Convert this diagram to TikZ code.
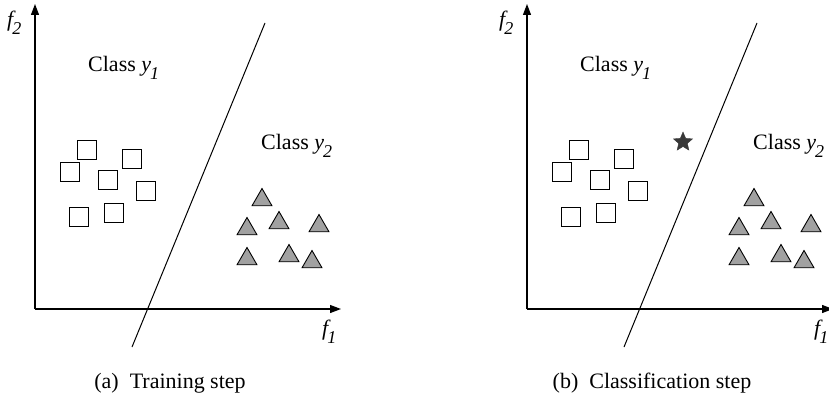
\documentclass[tikz,border=0pt]{standalone}
\usepackage{fontspec}
\setmainfont{Liberation Serif}
\newfontfamily\tms{Liberation Serif}
\usetikzlibrary{arrows.meta,shapes.geometric}
\newcommand{\lbl}[2]{{\itshape #1}\kern-1pt\raisebox{-8pt}{\fontsize{18}{18}\selectfont\itshape #2}}
\tikzset{
  axis/.style={line width=1.2pt,-{Triangle[length=11pt,width=8pt]}},
  sq/.style={draw,line width=0.9pt,minimum size=19pt,inner sep=0pt},
  tri/.style={draw,line width=0.9pt,fill=black!37,regular polygon,regular polygon sides=3,minimum size=23pt,inner sep=0pt},
  txt/.style={font=\tms\fontsize{22}{26}\selectfont,anchor=base west,inner sep=0pt},
  captext/.style={font=\tms\fontsize{22}{26}\selectfont,anchor=base,inner sep=0pt},
  sep/.style={line width=1pt},
  starnode/.style={star,star points=5,star point ratio=2.2,fill=black!78,draw=black!78,minimum size=20pt,inner sep=0pt}
}
\newcommand{\panel}{%
  \coordinate (o) at (35,309);
  \coordinate (yt) at (35,4);
  \coordinate (xt) at (341,309);
  \draw[axis] (o) -- (yt);
  \draw[axis] (o) -- (xt);
  \node[txt] (f2) at (7,27) {\lbl{f}{2}};
  \node[txt] (f1) at (322,335) {\lbl{f}{1}};
  \coordinate (l1) at (132,347);
  \coordinate (l2) at (265,23);
  \draw[sep] (l1) -- (l2);
  \node[txt] (c1) at (88,71) {Class \lbl{y}{1}};
  \node[txt] (c2) at (261,149) {Class \lbl{y}{2}};
  \node[sq] (s1) at (87,150) {};
  \node[sq] (s2) at (70,172) {};
  \node[sq] (s3) at (132,159) {};
  \node[sq] (s4) at (108,180) {};
  \node[sq] (s5) at (146,191) {};
  \node[sq] (s6) at (79,217) {};
  \node[sq] (s7) at (114,213) {};
  \node[tri] (t1) at (262,200) {};
  \node[tri] (t2) at (279,223) {};
  \node[tri] (t3) at (247,229) {};
  \node[tri] (t4) at (319,226) {};
  \node[tri] (t5) at (247,259) {};
  \node[tri] (t6) at (289,256) {};
  \node[tri] (t7) at (312,262) {};
}
\begin{document}
\begin{tikzpicture}[x=1pt,y=-1pt]
  \useasboundingbox (0,0) rectangle (829,396);
  \clip (0,0) rectangle (829,396);
  \begin{scope}[name prefix=a-]
    \panel
  \end{scope}
  \node[captext] (capa) at (170,388) {(a)\hspace{0.5em}Training step};
  \begin{scope}[name prefix=b-,shift={(492,0)}]
    \panel
    \node[starnode] (star) at (191,142) {};
  \end{scope}
  \node[captext] (capb) at (652,388) {(b)\hspace{0.5em}Classification step};
\end{tikzpicture}
\end{document}
